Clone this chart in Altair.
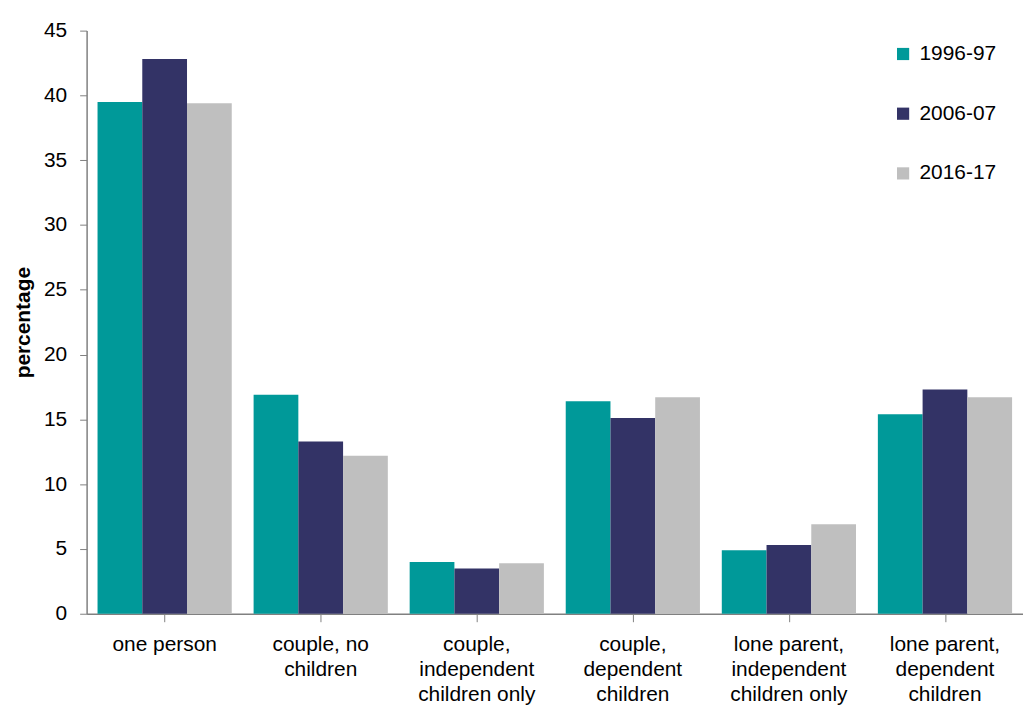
import altair as alt
import pandas as pd

categories = [
    "one person",
    "couple, no children",
    "couple, independent children only",
    "couple, dependent children",
    "lone parent, independent children only",
    "lone parent, dependent children",
]
series = ["1996-97", "2006-07", "2016-17"]
v1996 = [39.5, 16.9, 4.0, 16.4, 4.9, 15.4]
v2006 = [42.8, 13.3, 3.5, 15.1, 5.3, 17.3]
v2016 = [39.4, 12.2, 3.9, 16.7, 6.9, 16.7]
colors = ["#009999", "#333366", "#BFBFBF"]

rows = []
for i, c in enumerate(categories):
    for s, vals in zip(series, [v1996, v2006, v2016]):
        rows.append({"category": c, "period": s, "value": vals[i]})
df = pd.DataFrame(rows)

label_expr = (
    "datum.value == 'one person' ? ['one person'] : "
    "datum.value == 'couple, no children' ? ['couple, no', 'children'] : "
    "datum.value == 'couple, independent children only' ? ['couple,', 'independent', 'children only'] : "
    "datum.value == 'couple, dependent children' ? ['couple,', 'dependent', 'children'] : "
    "datum.value == 'lone parent, independent children only' ? ['lone parent,', 'independent', 'children only'] : "
    "['lone parent,', 'dependent', 'children']"
)

FONT = "Liberation Sans"

bars = (
    alt.Chart(df)
    .mark_bar()
    .encode(
        x=alt.X(
            "category:N",
            sort=categories,
            scale=alt.Scale(paddingInner=0.14, paddingOuter=0.07),
            axis=alt.Axis(
                title=None,
                orient="bottom",
                labelAngle=0,
                labelExpr=label_expr,
                labelFont=FONT,
                labelFontSize=21,
                labelColor="#000000",
                labelPadding=19.5,
                labelLineHeight=25.5,
                labelBaseline="top",
                ticks=False,
                domain=False,
                grid=False,
            ),
        ),
        xOffset=alt.XOffset("period:N", sort=series),
        y=alt.Y(
            "value:Q",
            scale=alt.Scale(domain=[0, 45], nice=False),
            axis=alt.Axis(
                title="percentage",
                values=list(range(0, 50, 5)),
                grid=False,
                labelFont=FONT,
                labelFontSize=21,
                labelColor="#000000",
                labelPadding=13,
                tickSize=7,
                tickColor="#808080",
                domainColor="#808080",
                domainWidth=1.5,
                titleFont=FONT,
                titleFontSize=21,
                titleFontWeight="bold",
                titleColor="#000000",
                titlePadding=10,
            ),
        ),
        color=alt.Color(
            "period:N",
            sort=series,
            scale=alt.Scale(domain=series, range=colors),
            legend=alt.Legend(
                title=None,
                orient="none",
                legendX=810,
                legendY=13,
                symbolType="square",
                symbolSize=150,
                symbolStrokeWidth=0,
                labelFont=FONT,
                labelFontSize=21,
                labelColor="#000000",
                labelOffset=6,
                rowPadding=38,
            ),
        ),
    )
)

ticks_layer = (
    alt.Chart(df)
    .mark_point(opacity=0)
    .encode(
        x=alt.X(
            "category:N",
            sort=categories,
            scale=alt.Scale(paddingInner=0, paddingOuter=0),
            axis=alt.Axis(
                title=None,
                orient="bottom",
                labels=False,
                grid=False,
                bandPosition=0,
                tickSize=8,
                tickColor="#808080",
                domainColor="#808080",
                domainWidth=1.5,
            ),
        ),
        y=alt.Y("value:Q"),
    )
)

chart = (
    alt.layer(bars, ticks_layer)
    .resolve_scale(x="independent")
    .resolve_axis(x="independent")
    .properties(
        width=941,
        height=586,
        background="#ffffff",
        autosize=alt.AutoSizeParams(type="none"),
        padding={"left": 79, "top": 21, "right": 0, "bottom": 93},
    )
    .configure_view(stroke="transparent", strokeWidth=0)
    .configure_axis(grid=False)
)

chart.save("out.html", embed_options={"renderer": "svg", "actions": False})
